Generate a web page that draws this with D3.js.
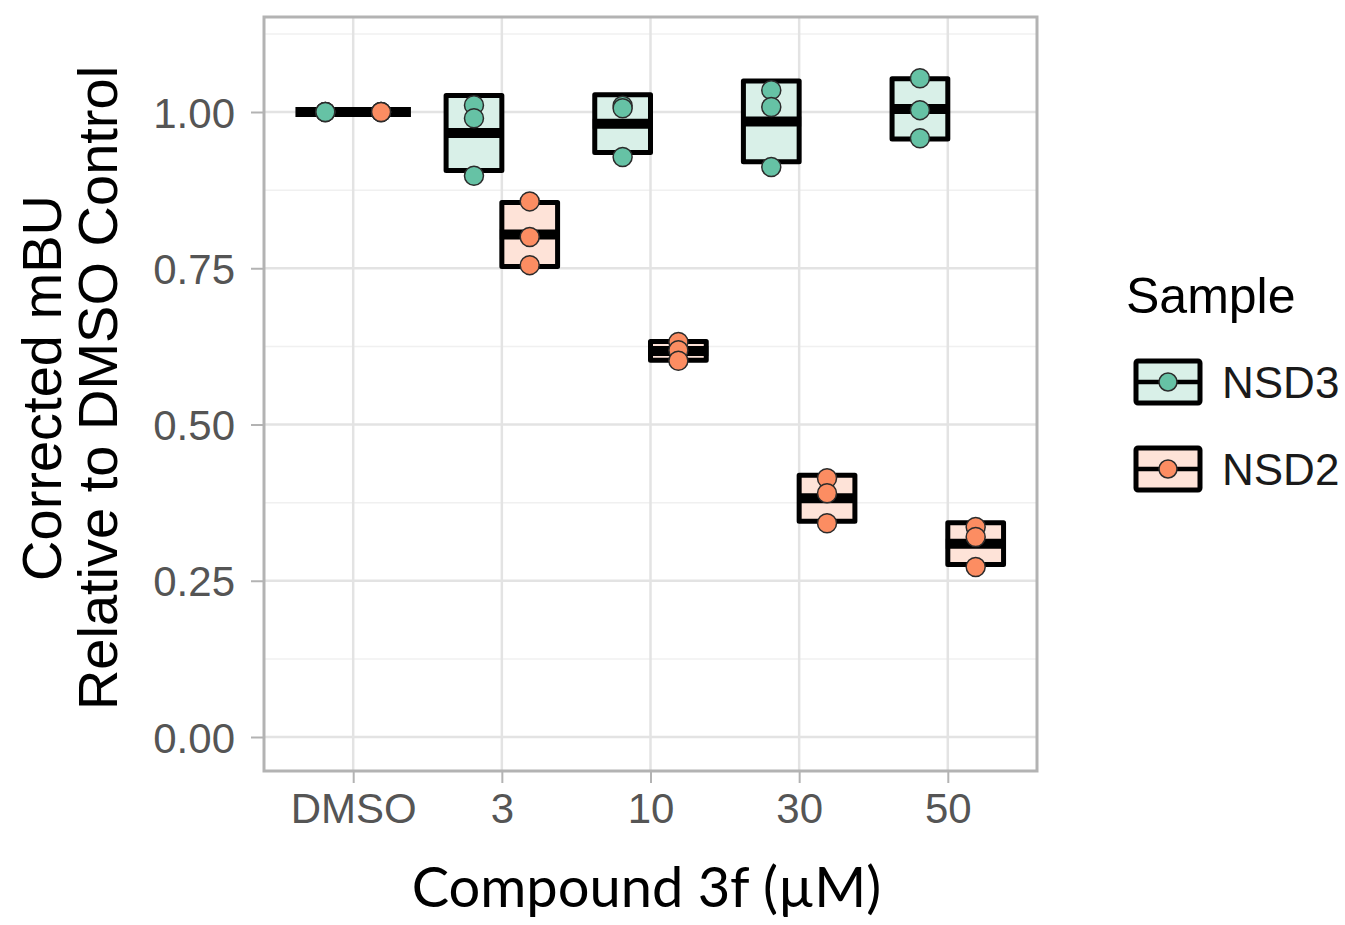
<!DOCTYPE html>
<html lang="en">
<head>
    <meta charset="utf-8">
    <title>Compound 3f</title>
    <style>
        body { margin: 0; background: #fff; }
        text { font-family: "Liberation Sans", Arial, sans-serif; }
    </style>
</head>
<body>
    <svg width="1345" height="925"></svg>
    <script src="https://cdn.jsdelivr.net/npm/d3@7"></script>
    <script>
        const doses = ["DMSO", "3", "10", "30", "50"];
        const samples = ["NSD3", "NSD2"];
        // three replicates per dose
        const nsd3Values = [
            [1.000, 1.000, 1.000],
            [1.011, 0.990, 0.898],
            [1.010, 1.006, 0.928],
            [1.035, 1.008, 0.912],
            [1.054, 1.003, 0.958]
        ];
        const nsd2Values = [
            [1.000, 1.000, 1.000],
            [0.857, 0.800, 0.755],
            [0.632, 0.619, 0.602],
            [0.414, 0.390, 0.342],
            [0.336, 0.320, 0.272]
        ];
        const yTicks = [0, 0.25, 0.5, 0.75, 1];
        const yMinor = [0.125, 0.375, 0.625, 0.875, 1.125];

        const colors = {NSD3: "#66c2a5", NSD2: "#fc8d62"};
        const fills = {NSD3: "#d9f0e8", NSD2: "#fee3d8"};

        const svg = d3.select("svg");
        const panel = {left: 264, right: 1037, top: 17, bottom: 771};

        const x = d3.scalePoint().domain(doses)
            .range([panel.left, panel.right]).padding(0.6);
        const dodge = x.step() * 0.75;
        const xs = d3.scaleBand().domain(samples).range([-dodge / 2, dodge / 2]);
        const y = d3.scaleLinear().domain([-0.0544, 1.152])
            .range([panel.bottom, panel.top]);

        // grid
        const grid = svg.append("g");
        grid.selectAll(".minor").data(yMinor).join("line")
            .attr("x1", panel.left).attr("x2", panel.right)
            .attr("y1", d => y(d)).attr("y2", d => y(d))
            .attr("stroke", "#f0f0f0").attr("stroke-width", 1.5);
        grid.selectAll(".major").data(yTicks).join("line")
            .attr("x1", panel.left).attr("x2", panel.right)
            .attr("y1", d => y(d)).attr("y2", d => y(d))
            .attr("stroke", "#e3e3e3").attr("stroke-width", 2.5);
        grid.selectAll(".vmajor").data(doses).join("line")
            .attr("x1", d => x(d)).attr("x2", d => x(d))
            .attr("y1", panel.top).attr("y2", panel.bottom)
            .attr("stroke", "#e3e3e3").attr("stroke-width", 2.5);

        // axes
        const yAxis = svg.append("g")
            .attr("transform", `translate(${panel.left},0)`)
            .call(d3.axisLeft(y).tickValues(yTicks).tickSize(13).tickPadding(16)
                .tickFormat(d3.format(".2f")));
        const xAxis = svg.append("g")
            .attr("transform", `translate(0,${panel.bottom})`)
            .call(d3.axisBottom(x).tickSize(12).tickPadding(10));
        [yAxis, xAxis].forEach(a => {
            a.select(".domain").remove();
            a.selectAll(".tick line").attr("stroke", "#b3b3b3").attr("stroke-width", 2);
            a.selectAll(".tick text").attr("fill", "#555")
                .style("font-size", "42px");
        });
        yAxis.selectAll(".tick text").attr("dy", "0.36em");

        // crossbars (mean +/- sd) and points
        const series = [
            {key: "NSD3", values: nsd3Values},
            {key: "NSD2", values: nsd2Values}
        ];
        const marks = svg.append("g");
        series.forEach(s => {
            s.values.forEach((vals, i) => {
                const cx = x(doses[i]) + xs(s.key) + xs.bandwidth() / 2;
                const m = d3.mean(vals);
                const sd = d3.deviation(vals) || 0;
                const w = xs.bandwidth();
                marks.append("rect")
                    .attr("x", cx - w / 2).attr("width", w)
                    .attr("y", y(m + sd)).attr("height", y(m - sd) - y(m + sd))
                    .attr("fill", fills[s.key])
                    .attr("stroke", "#000").attr("stroke-width", 5)
                    .attr("stroke-linejoin", "round");
                marks.append("line")
                    .attr("x1", cx - w / 2 - 2).attr("x2", cx + w / 2 + 2)
                    .attr("y1", y(m)).attr("y2", y(m))
                    .attr("stroke", "#000").attr("stroke-width", 10);
                marks.selectAll(null).data(vals).join("circle")
                    .attr("cx", cx).attr("cy", d => y(d)).attr("r", 9.5)
                    .attr("fill", colors[s.key])
                    .attr("stroke", "#2b2b2b").attr("stroke-width", 1.5);
            });
        });

        // panel border
        svg.append("rect")
            .attr("x", panel.left).attr("y", panel.top)
            .attr("width", panel.right - panel.left)
            .attr("height", panel.bottom - panel.top)
            .attr("fill", "none").attr("stroke", "#b3b3b3").attr("stroke-width", 3);

        // titles
        svg.append("text")
            .attr("x", (panel.left + panel.right) / 2 - 4).attr("y", 907)
            .attr("text-anchor", "middle")
            .style("font-family", "Lato, 'Open Sans', sans-serif")
            .style("font-size", "56px").attr("fill", "#000")
            .text("Compound 3f (µM)");
        const yTitle = svg.append("text")
            .attr("transform", "translate(0,388) rotate(-90)")
            .attr("text-anchor", "middle")
            .style("font-size", "56px").attr("fill", "#000");
        yTitle.append("tspan").attr("x", 0).attr("y", 61).text("Corrected mBU");
        yTitle.append("tspan").attr("x", 0).attr("y", 117).text("Relative to DMSO Control");

        // legend
        const legend = svg.append("g");
        legend.append("text").attr("x", 1126).attr("y", 313)
            .style("font-size", "50px").attr("fill", "#000").text("Sample");
        samples.forEach((k, i) => {
            const ly = 382 + i * 87;
            const g = legend.append("g");
            g.append("rect").attr("x", 1136).attr("y", ly - 21)
                .attr("width", 64).attr("height", 42)
                .attr("fill", fills[k]).attr("stroke", "#000").attr("stroke-width", 5)
                .attr("rx", 2);
            g.append("line").attr("x1", 1136).attr("x2", 1200)
                .attr("y1", ly).attr("y2", ly)
                .attr("stroke", "#000").attr("stroke-width", 4.5);
            g.append("circle").attr("cx", 1168).attr("cy", ly).attr("r", 9)
                .attr("fill", colors[k]).attr("stroke", "#2b2b2b").attr("stroke-width", 1.5);
            g.append("text").attr("x", 1222).attr("y", ly + 16)
                .style("font-size", "44px").attr("fill", "#1a1a1a").text(k);
        });
    </script>
</body>
</html>
